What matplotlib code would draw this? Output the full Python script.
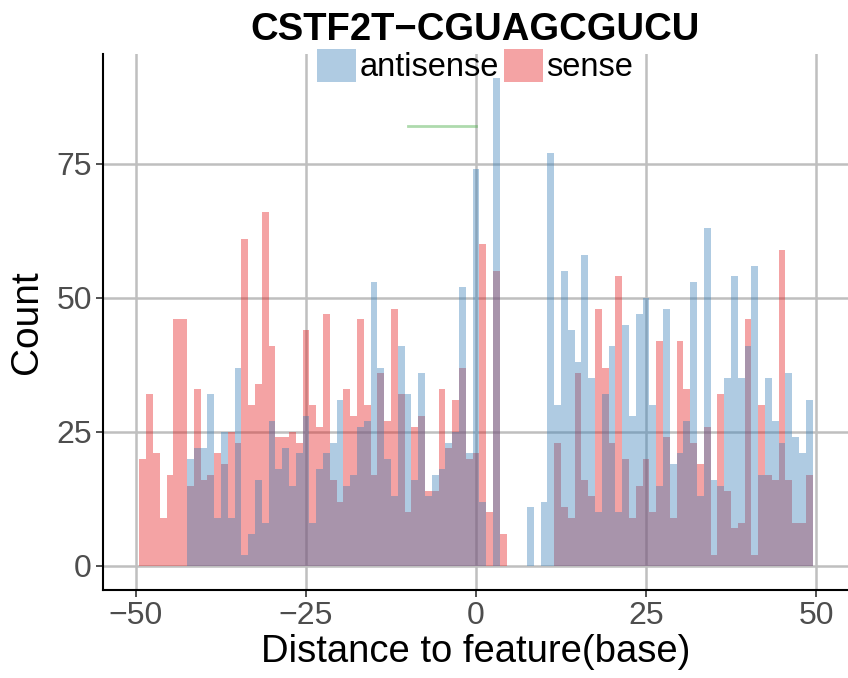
import numpy as np
import matplotlib
matplotlib.use("Agg")
import matplotlib.pyplot as plt
from matplotlib.patches import Patch

plt.rcParams['font.family'] = ['Liberation Sans', 'DejaVu Sans']

# distance bins (centres), -49 .. 49
distance = np.arange(-49, 50)

# counts per bin
sense = [20, 32, 21, 9, 17, 46, 46, 15, 33, 16,       # -49 .. -40
         17, 21, 19, 25, 23, 61, 30, 34, 66, 41,      # -39 .. -30
         24, 24, 25, 23, 44, 30, 26, 47, 16, 12,      # -29 .. -20
         33, 28, 46, 30, 17, 36, 27, 48, 32, 10,      # -19 .. -10
         26, 28, 14, 14, 33, 22, 31, 37, 20,          # -9 .. -1
         21, 60, 10, 55, 6, 0, 0, 0, 0, 0,            # 0 .. 9
         0, 0, 23, 11, 9, 36, 16, 13, 48, 37,         # 10 .. 19
         23, 54, 20, 9, 15, 20, 10, 42, 24, 9,        # 20 .. 29
         42, 33, 23, 19, 26, 2, 32, 14, 7, 8,         # 30 .. 39
         46, 2, 30, 17, 16, 59, 16, 8, 8, 17]         # 40 .. 49

antisense = [0, 0, 0, 0, 0, 0, 0, 20, 22, 22,          # -49 .. -40
             32, 9, 25, 9, 37, 2, 6, 16, 8, 27,        # -39 .. -30
             18, 22, 15, 21, 28, 8, 18, 21, 23, 31,    # -29 .. -20
             15, 17, 26, 27, 53, 37, 20, 13, 41, 32,   # -19 .. -10
             16, 36, 13, 17, 18, 23, 25, 52, 21,       # -9 .. -1
             74, 12, 0, 91, 0, 0, 0, 0, 11, 0,         # 0 .. 9
             12, 77, 30, 55, 44, 38, 58, 35, 10, 32,   # 10 .. 19
             41, 10, 45, 28, 47, 50, 30, 15, 48, 19,   # 20 .. 29
             21, 27, 53, 13, 63, 16, 15, 35, 54, 35,   # 30 .. 39
             41, 56, 17, 35, 27, 23, 36, 24, 21, 31]   # 40 .. 49

# motif segment
seg_x = [-10, 0]
seg_y = [82, 82]

red = '#E41A1C'
blue = '#377EB8'
green = '#4DAF4A'

fig = plt.figure(figsize=(8.48, 6.78), dpi=100)
ax = fig.add_axes([103/848, 1 - 590/678, 745/848, 536/678])

ax.bar(distance, sense, width=1, color=red, alpha=0.4, linewidth=0, zorder=2)
ax.bar(distance, antisense, width=1, color=blue, alpha=0.4, linewidth=0, zorder=3)
ax.plot(seg_x, seg_y, color=green, alpha=0.45, lw=2, zorder=4)

ax.set_xlim(-54.85, 54.7)
ax.set_ylim(-4.48, 95.5)
ax.set_xticks([-50, -25, 0, 25, 50])
ax.set_yticks([0, 25, 50, 75])
ax.grid(True, color='#bfbfbf', lw=1.8, zorder=0)
ax.set_axisbelow(True)

for s in ['top', 'right']:
    ax.spines[s].set_visible(False)
for s in ['left', 'bottom']:
    ax.spines[s].set_linewidth(1.5)
    ax.spines[s].set_color('black')

ax.tick_params(length=5, width=1.2, color='#333333', labelsize=23,
               labelcolor='#4d4d4d', pad=3)
ax.set_xlabel('Distance to feature(base)', fontsize=27.5, labelpad=2)
ax.set_ylabel('Count', fontsize=28, labelpad=8)

fig.text(475/848, 1 - 30/678, 'CSTF2T\u2212CGUAGCGUCU', fontsize=27.5,
         fontweight='bold', ha='center', va='center')

handles = [Patch(color=blue, alpha=0.4, linewidth=0),
           Patch(color=red, alpha=0.4, linewidth=0)]
fig.legend(handles, ['antisense', 'sense'], loc='center',
           bbox_to_anchor=(475/848, 1 - 66/678), ncol=2, frameon=False,
           fontsize=23.5, handlelength=1.2, handleheight=1.2,
           handletextpad=0.1, columnspacing=0.15, borderpad=0)

fig.savefig('out.png', dpi=100)
